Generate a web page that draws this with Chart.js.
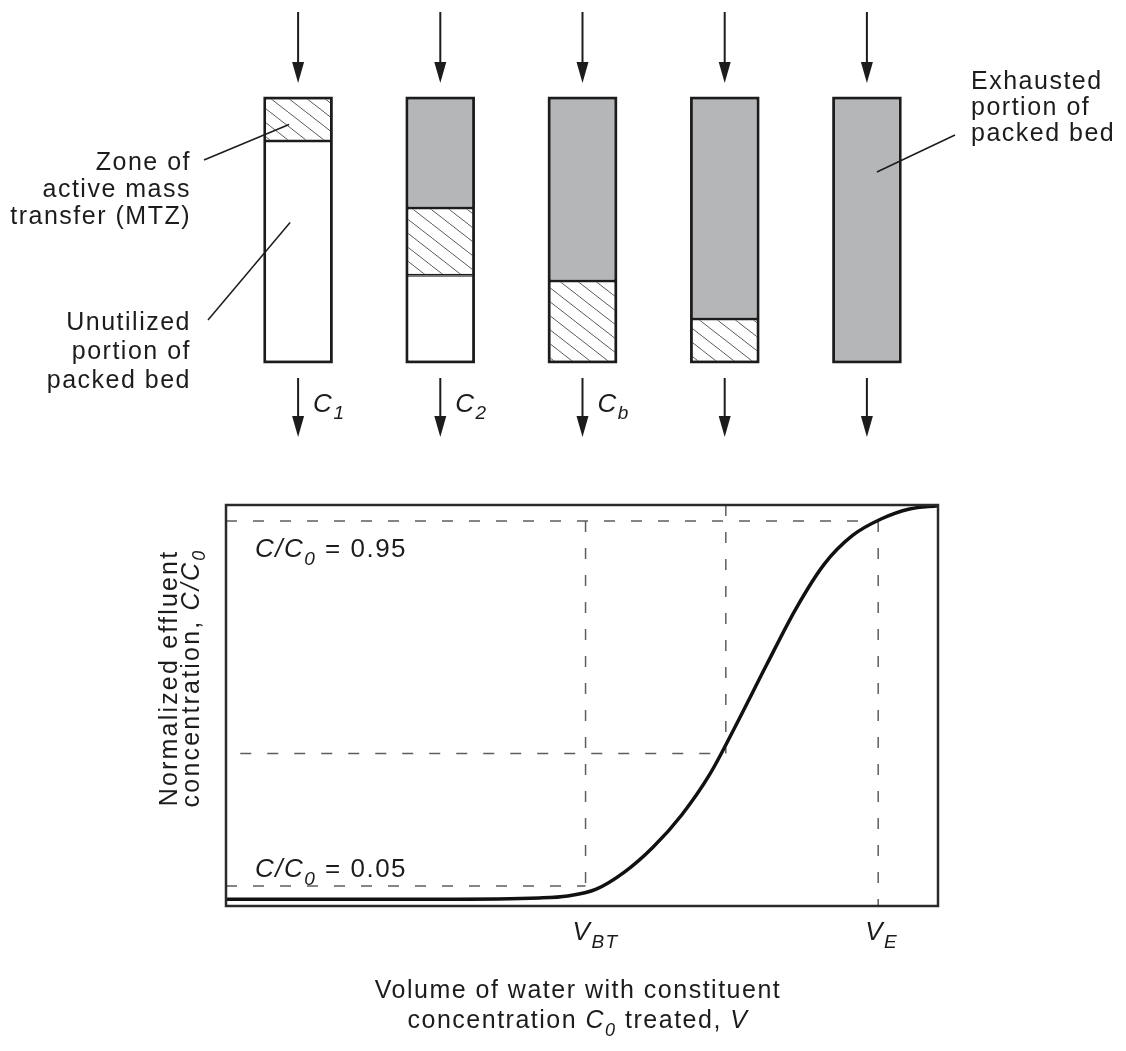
<!DOCTYPE html>
<html>
<head>
<meta charset="utf-8">
<script src="https://cdn.jsdelivr.net/npm/chart.js@4.4.0/dist/chart.umd.min.js"></script>
<style>
  html, body { margin: 0; padding: 0; background: #fff; }
  #wrap { position: relative; width: 1126px; height: 1051px; background: #fff; }
  #bedBox { position: absolute; left: 0; top: 0; width: 1126px; height: 470px; }
  #curveBox { position: absolute; left: 0; top: 470px; width: 1126px; height: 581px; }
</style>
</head>
<body>
<div id="wrap">
  <div id="bedBox"><canvas id="bedChart" width="1126" height="470"></canvas></div>
  <div id="curveBox"><canvas id="curveChart" width="1126" height="581"></canvas></div>
</div>
<script>
    // packed bed columns, fraction of bed depth counted from the top
    const columns = ['1', '2', '3', '4', '5'];
    const exhausted = [null, 0.417, 0.693, 0.837, 1.0];
    const mtz = [0.163, 0.254, 0.307, 0.163, null];
    const unutilized = [0.837, 0.329, null, null, null];
    const outletSubs = ['1', '2', 'b', '', ''];

    // breakthrough curve (V in % of plotted range, C/C0)
    const volume = [0, 30, 44, 48, 52, 56, 60, 64, 68, 72, 76, 80, 84, 88, 92, 96, 100];
    const conc = [0.017, 0.017, 0.02, 0.025, 0.042, 0.085, 0.147, 0.227, 0.33, 0.464, 0.604, 0.74, 0.852, 0.924, 0.965, 0.99, 0.998];

    // guide lines
    const vBT = 50.5, vMid = 70.2, vE = 91.6;
    const c95 = 0.96, cMid = 0.38, c05 = 0.05;

    const FONT = '"Liberation Sans", Arial, sans-serif';
    const INK = '#1c1c1c';

    function fontFor(style, size) {
      const s = style.includes('s') ? Math.round(size * 0.72) : size;
      return (style.includes('i') ? 'italic ' : '') + s + 'px ' + FONT;
    }

    // parts: [text, style]  style: '' normal, 'i' italic, 'is' italic subscript
    function richText(ctx, parts, x, y, align, size) {
      let w = 0;
      const m = parts.map(p => {
        ctx.font = fontFor(p[1], size);
        const pw = ctx.measureText(p[0]).width;
        w += pw;
        return pw;
      });
      let cx = align === 'center' ? x - w / 2 : align === 'right' ? x - w : x;
      ctx.textAlign = 'left';
      parts.forEach((p, i) => {
        ctx.font = fontFor(p[1], size);
        ctx.fillText(p[0], cx, y + (p[1].includes('s') ? size * 0.32 : 0));
        cx += m[i];
      });
    }

    function arrow(ctx, x, y0, y1) {
      ctx.beginPath();
      ctx.moveTo(x, y0);
      ctx.lineTo(x, y1 - 18);
      ctx.stroke();
      ctx.beginPath();
      ctx.moveTo(x - 6, y1 - 21);
      ctx.lineTo(x + 6, y1 - 21);
      ctx.lineTo(x, y1);
      ctx.closePath();
      ctx.fill();
    }

    function leader(ctx, x0, y0, x1, y1) {
      ctx.beginPath();
      ctx.moveTo(x0, y0);
      ctx.lineTo(x1, y1);
      ctx.stroke();
    }

    function makeHatch() {
      const c = document.createElement('canvas');
      const w = 18, h = 14;
      c.width = w; c.height = h;
      const g = c.getContext('2d');
      g.fillStyle = '#ffffff';
      g.fillRect(0, 0, w, h);
      g.strokeStyle = '#5a5a5a';
      g.lineWidth = 1;
      for (let k = -1; k <= 1; k++) {
        g.beginPath();
        g.moveTo(k * w, 0);
        g.lineTo(k * w + w, h);
        g.stroke();
      }
      return g.createPattern(c, 'repeat');
    }

    const bedDecor = {
      id: 'bedDecor',
      afterDatasetsDraw(chart) {
        const ctx = chart.ctx;
        const xs = chart.scales.x, ys = chart.scales.y;
        const top = ys.getPixelForValue(0), bottom = ys.getPixelForValue(1);
        const barW = chart.getDatasetMeta(0).data[0].width;
        ctx.save();
        ctx.letterSpacing = '1.5px';
        ctx.strokeStyle = INK;
        ctx.fillStyle = INK;
        columns.forEach((c, i) => {
          const cx = xs.getPixelForValue(i);
          ctx.lineWidth = 2.5;
          ctx.strokeRect(cx - barW / 2, top, barW, bottom - top);
          ctx.lineWidth = 2;
          arrow(ctx, cx, top - 86, top - 15);
          arrow(ctx, cx, bottom + 16, bottom + 75);
          if (outletSubs[i]) {
            ctx.textBaseline = 'middle';
            richText(ctx, [['C', 'i'], [outletSubs[i], 'is']], cx + 15, bottom + 43, 'left', 26);
          }
        });

        ctx.textBaseline = 'middle';
        ctx.lineWidth = 1.5;
        const x0 = xs.getPixelForValue(0);
        const mtzMid = ys.getPixelForValue(mtz[0] / 2);
        const unMid = ys.getPixelForValue(mtz[0] + unutilized[0] / 2);
        leader(ctx, 204, 160, x0 - 9, mtzMid + 5);
        leader(ctx, 208, 320, x0 - 8, unMid - 29);
        const x4 = xs.getPixelForValue(4);
        leader(ctx, 955, 135, x4 + 10, 172);

        ['Zone of', 'active mass', 'transfer (MTZ)'].forEach((t, k) =>
          richText(ctx, [[t, '']], 191, 163 + k * 27, 'right', 25));
        ['Unutilized', 'portion of', 'packed bed'].forEach((t, k) =>
          richText(ctx, [[t, '']], 191, 323 + k * 29, 'right', 25));
        ['Exhausted', 'portion of', 'packed bed'].forEach((t, k) =>
          richText(ctx, [[t, '']], 971, 82 + k * 26, 'left', 25));
        ctx.restore();
      }
    };

    new Chart(document.getElementById('bedChart'), {
      type: 'bar',
      data: {
        labels: columns,
        datasets: [
          { label: 'Exhausted', data: exhausted, backgroundColor: '#b4b6b8' },
          { label: 'MTZ', data: mtz, backgroundColor: makeHatch() },
          { label: 'Unutilized', data: unutilized, backgroundColor: '#ffffff' }
        ]
      },
      options: {
        responsive: false,
        animation: false,
        layout: { padding: { left: 227, right: 188, top: 98, bottom: 108 } },
        datasets: {
          bar: {
            borderColor: INK,
            borderWidth: 1.5,
            borderSkipped: false,
            barPercentage: 0.47,
            categoryPercentage: 1
          }
        },
        scales: {
          x: { display: false, stacked: true },
          y: { display: false, stacked: true, min: 0, max: 1, reverse: true }
        },
        plugins: { legend: { display: false }, tooltip: { enabled: false } }
      },
      plugins: [bedDecor]
    });

    function guide(points) {
      return {
        data: points.map(p => ({ x: p[0], y: p[1] })),
        borderColor: '#5e5e5e',
        borderWidth: 1.5,
        borderDash: [11, 16],
        pointRadius: 0,
        tension: 0
      };
    }

    const curveDecor = {
      id: 'curveDecor',
      afterDraw(chart) {
        const ctx = chart.ctx;
        const a = chart.chartArea;
        const xs = chart.scales.x;
        ctx.save();
        ctx.strokeStyle = '#2a2a2a';
        ctx.lineWidth = 2.5;
        ctx.strokeRect(a.left, a.top, a.right - a.left, a.bottom - a.top);

        ctx.letterSpacing = '1.5px';
        ctx.fillStyle = INK;
        ctx.textBaseline = 'alphabetic';
        richText(ctx, [['C/C', 'i'], ['0', 'is'], [' = 0.95', '']], a.left + 29, 87, 'left', 26);
        richText(ctx, [['C/C', 'i'], ['0', 'is'], [' = 0.05', '']], a.left + 29, 407, 'left', 26);

        richText(ctx, [['V', 'i'], ['BT', 'is']], xs.getPixelForValue(vBT) - 13, 470, 'left', 26);
        richText(ctx, [['V', 'i'], ['E', 'is']], xs.getPixelForValue(vE) - 13, 470, 'left', 26);

        richText(ctx, [['Volume of water with constituent', '']], 578, 528, 'center', 25);
        richText(ctx, [['concentration ', ''], ['C', 'i'], ['0', 'is'], [' treated, ', ''], ['V', 'i']], 578, 558, 'center', 25);

        ctx.letterSpacing = '2.2px';
        ctx.save();
        ctx.translate(170, 208);
        ctx.rotate(-Math.PI / 2);
        ctx.textBaseline = 'middle';
        richText(ctx, [['Normalized effluent', '']], 0, 0, 'center', 25);
        ctx.restore();
        ctx.save();
        ctx.translate(192, 208);
        ctx.rotate(-Math.PI / 2);
        ctx.textBaseline = 'middle';
        richText(ctx, [['concentration, ', ''], ['C/C', 'i'], ['0', 'is']], 0, 0, 'center', 25);
        ctx.restore();
        ctx.restore();
      }
    };

    new Chart(document.getElementById('curveChart'), {
      type: 'line',
      data: {
        datasets: [
          {
            data: volume.map((v, i) => ({ x: v, y: conc[i] })),
            borderColor: '#111111',
            borderWidth: 3.5,
            pointRadius: 0,
            cubicInterpolationMode: 'monotone'
          },
          guide([[0, c95], [90.5, c95]]),
          guide([[vBT, c95], [vBT, 0.04]]),
          guide([[vMid, 1], [vMid, cMid]]),
          guide([[2, cMid], [vMid, cMid]]),
          guide([[vE, c95], [vE, 0]]),
          guide([[0, c05], [vBT, c05]])
        ]
      },
      options: {
        responsive: false,
        animation: false,
        layout: { padding: { left: 226, right: 188, top: 35, bottom: 145 } },
        scales: {
          x: { type: 'linear', display: false, min: 0, max: 100 },
          y: { display: false, min: 0, max: 1 }
        },
        plugins: { legend: { display: false }, tooltip: { enabled: false } }
      },
      plugins: [curveDecor]
    });
</script>
</body>
</html>
